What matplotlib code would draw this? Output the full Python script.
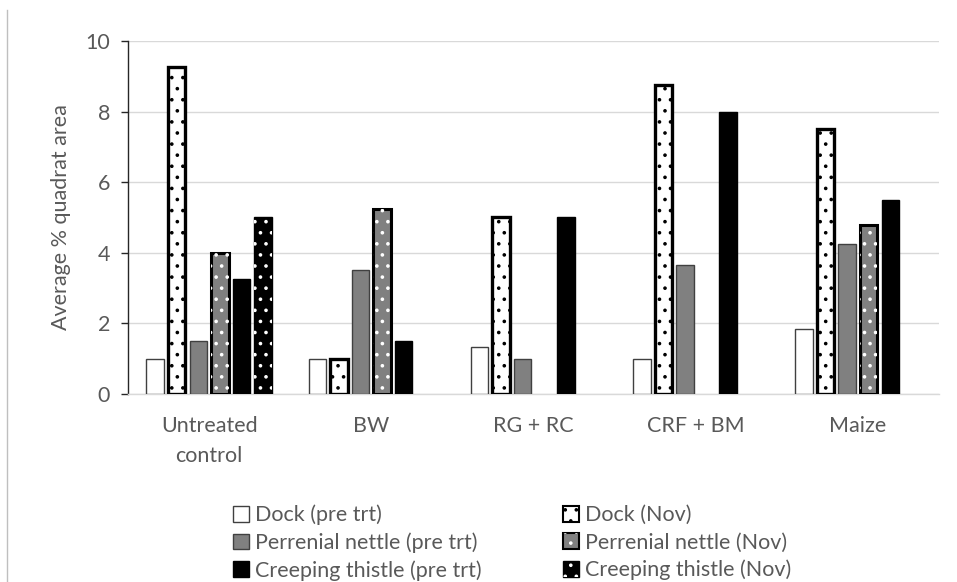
import numpy as np
import matplotlib
matplotlib.use("Agg")
import matplotlib.pyplot as plt
from matplotlib.patches import Patch
from matplotlib.legend_handler import HandlerTuple
from matplotlib.lines import Line2D

# ---- data ----
treatments = ["Untreated\ncontrol", "BW", "RG + RC", "CRF + BM", "Maize"]
dock_pre     = [1.0, 1.0, 1.33, 1.0, 1.85]
dock_nov     = [9.25, 1.0, 5.0, 8.75, 7.5]
nettle_pre   = [1.5, 3.5, 1.0, 3.65, 4.25]
nettle_nov   = [4.0, 5.25, 0.0, 0.0, 4.8]
thistle_pre  = [3.25, 1.5, 5.0, 8.0, 5.5]
thistle_nov  = [5.0, 0.0, 0.0, 0.0, 0.0]
series_labels = ["Dock (pre trt)", "Dock (Nov)",
                 "Perrenial nettle (pre trt)", "Perrenial nettle (Nov)",
                 "Creeping thistle (pre trt)", "Creeping thistle (Nov)"]
yticks = [0, 2, 4, 6, 8, 10]

# hatch tile is one inch, so a higher dpi gives finer dots;
# sizes below are scaled so the pixel result stays the same
DPI = 133
S = 100 / DPI
W, H = 957, 582

plt.rcParams["font.family"] = ["Lato", "DejaVu Sans"]
plt.rcParams["hatch.linewidth"] = 1.0 * S
TXT = "#595959"
GRAY = "#808080"
FS = 15.5 * S

fig = plt.figure(figsize=(W / DPI, H / DPI), dpi=DPI)
ax = fig.add_axes([128 / W, 1 - 394 / H, (939 - 128) / W, (394 - 41) / H])

x = np.arange(len(treatments))
pitch = 0.133
width = 0.108

# style per series: face, edge, lw, dot colour (None = no dots)
styles = [
    ("white", "#404040", 1.0, None),
    ("white", "black", 2.4, "black"),
    (GRAY, "#404040", 1.0, None),
    (GRAY, "black", 2.2, "white"),
    ("black", "black", 1.0, None),
    ("black", "black", 1.0, "white"),
]
series = [dock_pre, dock_nov, nettle_pre, nettle_nov, thistle_pre, thistle_nov]

handles = []
for i, (vals, (face, edge, lw, dots)) in enumerate(zip(series, styles)):
    vals = np.array(vals)
    m = vals > 0
    xs = x[m] + (i - 2.5) * pitch
    ax.bar(xs, vals[m], width, color=face, edgecolor=edge, linewidth=lw * S, zorder=3)
    base = Patch(facecolor=face, edgecolor=edge, linewidth=min(lw, 1.5) * S)
    if dots:
        # dot colour follows edge colour, so dots go on a see-through overlay bar
        ax.bar(xs, vals[m], width, facecolor="none", edgecolor=dots,
               hatch="..", linewidth=0, zorder=4)
        over = Patch(facecolor="none", edgecolor=dots, hatch="..", linewidth=0)
        handles.append((base, over))
    else:
        handles.append(base)

ax.set_xlim(-0.5, len(treatments) - 0.5)
ax.set_ylim(0, 10)
ax.set_yticks(yticks)
ax.set_xticks(x)
ax.set_xticklabels(treatments, fontsize=FS, color=TXT, linespacing=1.6)
ax.tick_params(axis="y", labelsize=FS, labelcolor=TXT, length=5 * S, width=1 * S,
               color="#262626", direction="out", pad=8 * S)
ax.tick_params(axis="x", length=0, pad=16 * S)
ax.grid(axis="y", color="#d9d9d9", linewidth=1 * S, zorder=0)
for s in ["top", "right"]:
    ax.spines[s].set_visible(False)
ax.spines["bottom"].set_color("#d9d9d9")
ax.spines["bottom"].set_linewidth(1 * S)
ax.spines["left"].set_color("#262626")
ax.spines["left"].set_linewidth(1 * S)
ax.set_ylabel("Average % quadrat area", fontsize=FS, color=TXT, labelpad=10 * S)

# legend is filled column-wise, so pre-trt entries first, then Nov
order = [0, 2, 4, 1, 3, 5]
leg = fig.legend([handles[k] for k in order], [series_labels[k] for k in order],
                 ncol=2, loc="upper left",
                 bbox_to_anchor=(222 / W, 1 - 494 / H), frameon=False,
                 fontsize=FS, handlelength=0.75, handleheight=0.75,
                 handletextpad=0.3, columnspacing=3.75, labelspacing=0.33,
                 borderpad=0, handler_map={tuple: HandlerTuple(ndivide=1)})
for t in leg.get_texts():
    t.set_color(TXT)

# thin outer chart border on the left
fig.add_artist(Line2D([7 / W, 7 / W], [0, 1 - 10 / H],
                      transform=fig.transFigure, color="#bfbfbf", linewidth=1 * S))

fig.savefig("out.png", dpi=DPI)
